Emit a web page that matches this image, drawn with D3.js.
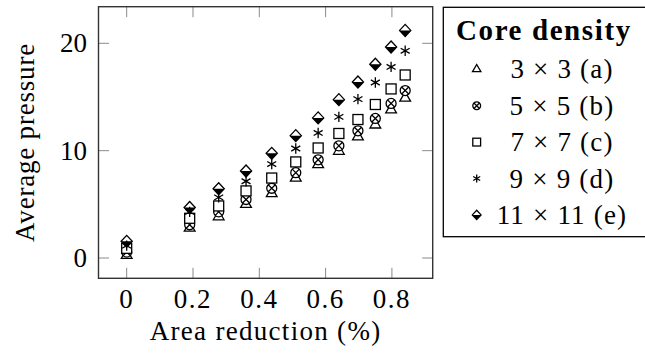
<!DOCTYPE html>
<html>
<head>
<meta charset="utf-8">
<script src="https://cdn.jsdelivr.net/npm/d3@7/dist/d3.min.js"></script>
<style>
html,body{margin:0;padding:0;background:#fff;}
svg{display:block;}
text{font-family:"Liberation Serif","DejaVu Serif",serif;fill:#000;}
</style>
</head>
<body>
<script>
// ---- data ----
const areaReduction = [0, 0.19, 0.2775, 0.36, 0.4375, 0.51, 0.5775, 0.64, 0.6975, 0.75, 0.7975, 0.84];
const density3  = [0.25, 2.8, 3.85, 5.0, 6.0, 7.45, 8.7, 9.95, 11.3, 12.4, 13.8, 14.9];
const density5  = [0.55, 3.1, 4.3, 5.45, 6.5, 7.95, 9.15, 10.45, 11.85, 13.0, 14.4, 15.6];
const density7  = [0.9, 3.7, 4.85, 6.25, 7.45, 8.95, 10.25, 11.6, 12.9, 14.3, 15.75, 17.05];
const density9  = [1.15, 4.3, 5.65, 7.15, 8.75, 10.2, 11.65, 13.15, 14.8, 16.35, 17.8, 19.3];
const density11 = [1.55, 4.7, 6.45, 8.1, 9.75, 11.4, 13.05, 14.75, 16.4, 18.05, 19.65, 21.2];
const seriesLabels = ["3 \u00d7 3 (a)", "5 \u00d7 5 (b)", "7 \u00d7 7 (c)", "9 \u00d7 9 (d)", "11 \u00d7 11 (e)"];
const seriesMarks = ["triangle", "otimes", "square", "asterisk", "halfdiamond"];
const xTicks = [0, 0.2, 0.4, 0.6, 0.8];
const yTicks = [0, 10, 20];
const xTitle = "Area reduction (%)";
const yTitle = "Average pressure";
const legendTitle = "Core density";

const series = [density3, density5, density7, density9, density11].map((vals, i) => ({
  label: seriesLabels[i], mark: seriesMarks[i],
  points: vals.map((v, j) => ({x: areaReduction[j], y: v}))
}));

// ---- layout ----
const W = 645, H = 360;
const L = 98.5, R = 432.7, T = 6.7, B = 278.3;
const x = d3.scaleLinear().domain([-0.085, 0.923]).range([L, R]);
const y = d3.scaleLinear().domain([-1.89, 23.41]).range([B, T]);
const fs = 27;

const svg = d3.select("body").append("svg").attr("width", W).attr("height", H);

// ticks (inward, mirrored)
const tl = 10.5;
const tickG = svg.append("g").attr("stroke", "#8a8a8a").attr("stroke-width", 1);
xTicks.forEach(t => {
  tickG.append("line").attr("x1", x(t)).attr("x2", x(t)).attr("y1", B).attr("y2", B - tl);
  tickG.append("line").attr("x1", x(t)).attr("x2", x(t)).attr("y1", T).attr("y2", T + tl);
});
yTicks.forEach(t => {
  tickG.append("line").attr("y1", y(t)).attr("y2", y(t)).attr("x1", L).attr("x2", L + tl);
  tickG.append("line").attr("y1", y(t)).attr("y2", y(t)).attr("x1", R).attr("x2", R - tl);
});

// axis box
svg.append("rect").attr("x", L).attr("y", T).attr("width", R - L).attr("height", B - T)
  .attr("fill", "none").attr("stroke", "#333").attr("stroke-width", 1.4);

// tick labels
svg.append("g").selectAll("text").data(xTicks).join("text")
  .attr("x", d => x(d)).attr("y", 308).attr("text-anchor", "middle")
  .attr("font-size", fs).attr("letter-spacing", 1.5).text(d => d3.format("")(d));
svg.append("g").selectAll("text").data(yTicks).join("text")
  .attr("x", 87).attr("y", d => y(d) + 9).attr("text-anchor", "end")
  .attr("font-size", fs).text(d => d);

// axis titles
svg.append("text").attr("x", (L + R) / 2).attr("y", 340).attr("text-anchor", "middle")
  .attr("font-size", fs).attr("letter-spacing", 1.3).text(xTitle);
svg.append("text").attr("transform", `translate(34,${(T + B) / 2}) rotate(-90)`)
  .attr("text-anchor", "middle").attr("font-size", fs).attr("letter-spacing", 0.8).text(yTitle);

// marker drawing
function drawMark(g, type, s) {
  const sw = 1.3;
  if (type === "triangle") {
    const r = 6.2 * s;
    g.append("path").attr("d", `M0,${-r}L${r * 0.866},${r / 2}L${-r * 0.866},${r / 2}Z`)
      .attr("fill", "#fff").attr("stroke", "#000").attr("stroke-width", sw);
  } else if (type === "otimes") {
    const r = 5 * s, q = r * 0.7071;
    g.append("circle").attr("r", r).attr("fill", "#fff").attr("stroke", "#000").attr("stroke-width", sw);
    g.append("path").attr("d", `M${-q},${-q}L${q},${q}M${-q},${q}L${q},${-q}`)
      .attr("stroke", "#000").attr("stroke-width", sw);
  } else if (type === "square") {
    const h = 5 * s;
    g.append("rect").attr("x", -h).attr("y", -h).attr("width", 2 * h).attr("height", 2 * h)
      .attr("fill", "#fff").attr("stroke", "#000").attr("stroke-width", sw);
  } else if (type === "asterisk") {
    const r = 5.2 * s, cx = r * 0.866, cy = r * 0.5;
    g.append("path").attr("d", `M0,${-r}L0,${r}M${-cx},${-cy}L${cx},${cy}M${-cx},${cy}L${cx},${-cy}`)
      .attr("stroke", "#000").attr("stroke-width", sw).attr("fill", "none");
  } else if (type === "halfdiamond") {
    const a = 5.6 * s, b = 6 * s;
    g.append("path").attr("d", `M${-a},0L0,${b}L${a},0Z`).attr("fill", "#000");
    g.append("path").attr("d", `M0,${-b}L${a},0L0,${b}L${-a},0Z`)
      .attr("fill", "none").attr("stroke", "#000").attr("stroke-width", sw);
  }
}

// data marks
series.forEach(sr => {
  const g = svg.append("g");
  g.selectAll("g").data(sr.points).join("g")
    .attr("transform", d => `translate(${x(d.x)},${y(d.y)})`)
    .each(function () { drawMark(d3.select(this), sr.mark, 1); });
});

// legend
const lg = svg.append("g");
lg.append("rect").attr("x", 443.3).attr("y", 7.3).attr("width", 215).attr("height", 229.4)
  .attr("fill", "#fff").attr("stroke", "#000").attr("stroke-width", 1.3);
lg.append("text").attr("x", 456).attr("y", 40).attr("font-weight", "bold")
  .attr("font-size", 29).attr("letter-spacing", 1.6).text(legendTitle);
const rowY = d3.scaleLinear().domain([0, 4]).range([69.3, 214.9]);
series.forEach((sr, i) => {
  const g = lg.append("g").attr("transform", `translate(476.7,${rowY(i)})`);
  drawMark(g, sr.mark, 0.78);
  lg.append("text").attr("x", 562).attr("y", rowY(i) + 9).attr("text-anchor", "middle")
    .attr("font-size", fs).attr("letter-spacing", 1.2).text(sr.label);
});
</script>
</body>
</html>
